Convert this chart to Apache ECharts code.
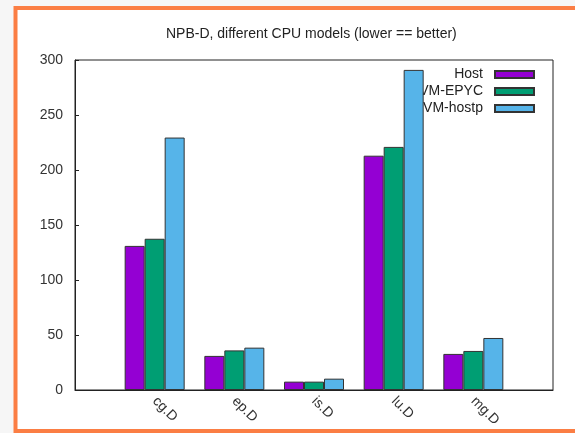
<!DOCTYPE html>
<html>
<head>
<meta charset="utf-8">
<script src="https://cdn.jsdelivr.net/npm/echarts@6/dist/echarts.min.js"></script>
<style>html,body{margin:0;padding:0;background:#f6f6f6}#c{width:575px;height:433px}</style>
</head>
<body>
<div id="c"></div>
<script>
const categories = ['cg.D', 'ep.D', 'is.D', 'lu.D', 'mg.D'];
const hostValues = [131, 31, 7.6, 213, 32.8];
const epycValues = [137.5, 36, 7.6, 221, 35.5];
const hostpValues = [229.5, 38.5, 10.3, 291, 47.3];
const seriesNames = ['Host', 'VM-EPYC', 'VM-hostp'];
const yTicks = [0, 50, 100, 150, 200, 250, 300];

const pad = arr => [null].concat(arr, [null]);
const xCats = [''].concat(categories, ['']);
const colors = ['#9400D3', '#009E73', '#56B4E9'];
const allValues = [hostValues, epycValues, hostpValues];
const FONT = 'Liberation Sans, Arial, sans-serif';

const chart = echarts.init(document.getElementById('c'), null, {renderer: 'canvas'});
chart.setOption({
  backgroundColor: '#f6f6f6',
  animation: false,
  textStyle: {fontFamily: FONT},
  graphic: [{
    type: 'rect', z: -10, silent: true,
    shape: {x: 15.5, y: 8, width: 700, height: 423},
    style: {fill: '#ffffff', stroke: '#FB7E44', lineWidth: 4}
  }],
  title: {
    text: 'NPB-D, different CPU models (lower == better)',
    left: 166, top: 27, padding: 0,
    textStyle: {fontSize: 14, fontWeight: 'normal', color: '#222', fontFamily: FONT}
  },
  legend: {
    z: 1,
    orient: 'vertical', align: 'right',
    right: 35, top: 62,
    itemWidth: 39, itemHeight: 7, itemGap: 2,
    icon: 'rect',
    data: seriesNames,
    textStyle: {fontSize: 14, lineHeight: 15, color: '#222', padding: [0, 7, 0, 0], fontFamily: FONT}
  },
  grid: {left: 75, right: 22, top: 60, bottom: 43, show: true, borderColor: '#222', borderWidth: 1, backgroundColor: 'transparent'},
  xAxis: {
    type: 'category', data: xCats, boundaryGap: false,
    axisLine: {lineStyle: {color: '#222'}},
    axisTick: {show: false},
    axisLabel: {rotate: -45, margin: 9, fontSize: 14, color: '#333', interval: 0}
  },
  yAxis: {
    type: 'value', min: yTicks[0], max: yTicks[yTicks.length - 1], interval: 50,
    axisLine: {show: true, lineStyle: {color: '#222'}},
    axisTick: {show: true, inside: true, length: 4, lineStyle: {color: '#222'}},
    splitLine: {show: false},
    axisLabel: {margin: 12, fontSize: 14, color: '#333'}
  },
  series: seriesNames.map((name, i) => ({
    name, type: 'bar', z: 2,
    data: pad(allValues[i]),
    barWidth: 20, barGap: '0%',
    itemStyle: {color: colors[i], borderColor: '#333', borderWidth: 1}
  }))
});
</script>
</body>
</html>
